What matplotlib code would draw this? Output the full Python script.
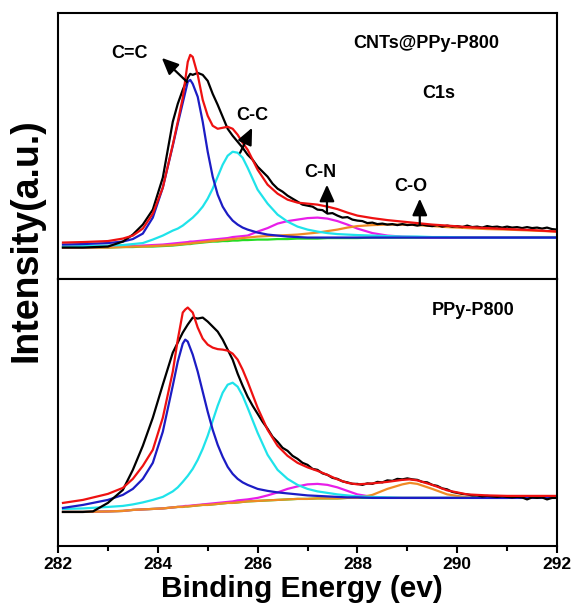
import matplotlib
matplotlib.use('Agg')
import matplotlib.pyplot as plt

plt.rcParams['font.family'] = ['Liberation Sans', 'DejaVu Sans']
plt.rcParams['font.weight'] = 'bold'

# ---- CNTs@PPy-P800, C1s (binding energy in eV, intensity in a.u.) ----
top_be = [282.1, 282.5, 283.0, 283.3, 283.5, 283.7, 283.9, 284.1, 284.3, 284.4,
          284.5, 284.6, 284.65, 284.7, 284.8, 284.9, 285.0, 285.1, 285.2, 285.3,
          285.4, 285.5, 285.6, 285.7, 285.8, 286.0, 286.2, 286.4, 286.6, 286.8,
          287.0, 287.2, 287.4, 287.6, 287.8, 288.0, 288.3, 288.6, 288.9, 289.2,
          289.5, 289.8, 290.2, 290.6, 291.0, 291.5, 292.0]
top_fit = [37, 37.5, 38.5, 41, 44, 51, 66, 92, 135, 158,
           182, 218, 225, 223, 205, 180, 164, 154, 151, 152,
           153, 151, 145, 137, 130, 110, 95, 86, 80, 77,
           76, 75, 73, 70.5, 67, 64, 61.5, 59.5, 58, 56.5,
           55, 54, 52.5, 51.5, 50.5, 49.5, 48]
top_cc_sp2 = [35, 35.5, 36.5, 38, 40.5, 46, 62, 92, 134, 156,
              177, 198, 200, 196, 183, 158, 128, 103, 85, 73,
              65, 59, 55, 52, 50, 47, 45, 44, 43, 42.5,
              42, 42, 42, 42, 42, 42, 42, 42, 42, 42,
              42, 42, 42, 42, 42, 42, 42]
top_cc_sp3 = [33, 33.5, 34, 34.5, 35.5, 36.5, 40, 44, 49, 51,
              54, 58, 60, 62, 67, 73, 81, 91, 103, 115,
              124, 128, 127, 122, 112, 90, 76, 65, 58, 53,
              50, 48, 46.5, 45.5, 45, 44.5, 44, 43.5, 43, 43,
              42.5, 42.5, 42, 42, 42, 42, 42]
top_cn = [32, 32, 32.5, 33, 33.5, 34, 34.5, 35, 36, 36.5,
          37, 37.5, 38, 38, 38.5, 39, 39.5, 40, 40.5, 41,
          41.5, 42.5, 43, 43.5, 44, 48, 51.5, 56, 58.5, 60,
          61.5, 62, 61, 58.5, 55, 51, 46.5, 44, 43, 42.5,
          42, 42, 42, 42, 42, 42, 42]
top_co = [32, 32, 32, 32.5, 33, 33, 33.5, 34, 34.5, 35,
          35.5, 36, 36, 36.5, 37, 37.5, 38, 38.5, 39, 39.5,
          40, 40.5, 41, 41.5, 42, 43, 43.5, 44, 44.5, 45,
          46, 47, 48.5, 50, 52, 53.5, 54.5, 55, 55, 54.5,
          53.5, 52.5, 51.5, 50.5, 50, 49, 48]
top_bg = [32, 32, 32, 32.5, 32.5, 33, 33, 33.5, 34, 34.5,
          35, 35.5, 35.5, 36, 36.5, 37, 37.5, 38, 38, 38.5,
          38.5, 39, 39, 39.5, 39.5, 40, 40, 40.5, 40.5, 41,
          41, 41, 41.5, 41.5, 41.5, 41.5, 42, 42, 42, 42,
          42, 42, 42, 42, 42, 42.5, 42.5]

# measured spectrum (denser in the tail)
top_raw_be = [282.1, 282.5, 283.0, 283.3, 283.5, 283.7, 283.9, 284.1, 284.3, 284.4,
              284.5, 284.6, 284.65, 284.7, 284.8, 284.9, 285.0, 285.1, 285.2, 285.3,
              285.4, 285.5, 285.6, 285.7, 285.8, 285.9,
              286.0, 286.1, 286.2, 286.3, 286.4, 286.5, 286.6, 286.7, 286.8, 286.9,
              287.0, 287.1, 287.2, 287.3, 287.4, 287.5, 287.6, 287.7, 287.8, 287.9,
              288.0, 288.1, 288.2, 288.3, 288.4, 288.5, 288.6, 288.7, 288.8, 288.9,
              289.0, 289.1, 289.2, 289.3, 289.4, 289.5, 289.6, 289.7, 289.8, 289.9,
              290.0, 290.1, 290.2, 290.3, 290.4, 290.5, 290.6, 290.7, 290.8, 290.9,
              291.0, 291.1, 291.2, 291.3, 291.4, 291.5, 291.6, 291.7, 291.8, 291.9,
              292.0]
top_raw = [32, 32, 33, 38, 45, 55, 70, 102, 158, 176,
           190, 202, 206, 205, 207, 205, 199, 186, 175, 163,
           151, 144, 138, 132, 125, 120,
           113, 108, 103, 96, 91, 88, 84, 81, 78, 75,
           74, 73, 70, 69.5, 66, 66.5, 64, 62, 62.5, 60,
           59, 58.5, 56.5, 57, 55.5, 56, 55, 55.5, 54.5, 55.5,
           54.5, 55, 54, 55, 54, 53.5, 54.5, 53, 54, 53,
           53.5, 52.5, 54, 52.5, 53, 52, 53.5, 52.5, 53, 52,
           53, 52, 52.5, 51.5, 52.5, 51.5, 52, 51, 52, 50.5,
           50]

# ---- PPy-P800 ----
bot_be = [282.1, 282.5, 283.0, 283.3, 283.5, 283.7, 283.9, 284.1, 284.3, 284.4,
          284.5, 284.55, 284.6, 284.7, 284.8, 284.9, 285.0, 285.1, 285.2, 285.3,
          285.4, 285.5, 285.6, 285.7, 285.8, 286.0, 286.2, 286.4, 286.6, 286.8,
          287.0, 287.2, 287.4, 287.6, 287.8, 288.0, 288.3, 288.6, 288.9, 289.05,
          289.2, 289.5, 289.8, 290.2, 290.6, 291.0, 291.5, 292.0]
bot_fit = [43, 46, 52, 58, 67, 80, 96, 128, 174, 206,
           233, 236, 238, 233, 218, 207, 201, 198, 196.5, 196,
           195, 192, 186, 176, 164, 138, 116, 100, 90, 83,
           78.5, 75, 71, 66.5, 63, 61.5, 62.5, 64, 66, 66.5,
           65.5, 61, 55.5, 51.5, 50.5, 50, 50, 50]
bot_cc_sp2 = [38, 41, 46, 51, 57, 67, 83, 114, 160, 184,
              202, 206, 204, 191, 174, 154, 134, 116, 101, 89,
              79, 72, 67, 63.5, 61, 57, 55, 53.5, 52.5, 51.5,
              50.5, 50, 49.5, 49, 48.5, 48.5, 48, 48, 48, 48,
              48, 48, 48, 48, 48, 48, 48, 48]
bot_cc_sp3 = [37, 37.5, 39, 40, 41.5, 43.5, 46, 49, 54.5, 58.5,
              64, 67, 70, 77, 86, 97, 110, 125, 140, 153,
              161, 163, 159, 150, 138, 113, 91, 76, 67, 61,
              57, 54.5, 53, 51.5, 50.5, 49.5, 49, 48.5, 48, 48,
              48, 48, 48, 48, 48, 48, 48, 48]
bot_cn = [34, 34, 34.5, 35, 36, 36.5, 37, 37.5, 38.5, 39,
          39.5, 40, 40, 40.5, 41, 41.5, 42, 42.5, 43, 43.5,
          44, 44.5, 45.5, 46, 46.5, 48, 50.5, 53.5, 57, 59.5,
          61.5, 62, 61, 58.5, 55, 51.5, 49, 48, 48, 48,
          48, 48, 48, 48, 48, 48, 48.5, 48.5]
bot_co = [34, 34, 34.5, 35, 36, 36.5, 37, 37.5, 38.5, 39,
          39, 39.5, 39.5, 40, 40.5, 41, 41, 41.5, 42, 42.5,
          43, 43, 43.5, 44, 44.5, 45, 45.5, 46, 46.5, 47,
          47, 47.5, 47.5, 47.5, 48, 48, 51, 57, 61.5, 63,
          62, 57, 51.5, 48.5, 48, 48, 48.5, 48.5]
bot_bg = [34, 34, 34.5, 35, 36, 36.5, 37, 37.5, 38.5, 39,
          39, 39.5, 39.5, 40, 40.5, 41, 41, 41.5, 42, 42.5,
          43, 43, 43.5, 44, 44.5, 45, 45.5, 46, 46.5, 47,
          47, 47.5, 47.5, 47.5, 48, 48, 48, 48, 48, 48,
          48, 48, 48, 48, 48, 48, 48.5, 48.5]

bot_raw_be = [282.1, 282.5, 282.7, 283.0, 283.3, 283.5, 283.7, 283.9, 284.1, 284.3,
              284.4, 284.5, 284.55, 284.6, 284.7, 284.8, 284.9, 285.0, 285.1, 285.2,
              285.3, 285.4, 285.5, 285.6, 285.7, 285.8, 285.9,
              286.0, 286.1, 286.2, 286.3, 286.4, 286.5, 286.6, 286.7, 286.8, 286.9,
              287.0, 287.1, 287.2, 287.3, 287.4, 287.5, 287.6, 287.7, 287.8, 287.9,
              288.0, 288.1, 288.2, 288.3, 288.4, 288.5, 288.6, 288.7, 288.8, 288.9,
              289.0, 289.1, 289.2, 289.3, 289.4, 289.5, 289.6, 289.7, 289.8, 289.9,
              290.0, 290.1, 290.2, 290.3, 290.4, 290.5, 290.6, 290.7, 290.8, 290.9,
              291.0, 291.1, 291.2, 291.3, 291.4, 291.5, 291.6, 291.7, 291.8, 291.9,
              292.0]
bot_raw = [34, 34, 34.5, 43, 56, 76, 100, 128, 161, 193,
           203, 213, 217, 221, 228, 227, 228, 224, 219, 214,
           206, 196, 186, 172, 160, 149, 140,
           132, 124, 117, 109, 104, 98, 95, 90, 87, 83,
           81, 77, 76, 72.5, 71, 68, 67, 64.5, 63.5, 62,
           62, 61, 62.5, 62, 64, 63.5, 65.5, 65, 67, 66.5,
           67.5, 66.5, 66, 64, 63.5, 61, 60, 57.5, 56.5, 54,
           53, 52, 51.5, 50.5, 50.5, 49.5, 50, 49.5, 49, 49.5,
           49, 48.5, 49, 48.5, 46.5, 48.5, 48, 48.5, 46.5, 48,
           48]

fig, (ax1, ax2) = plt.subplots(2, 1, sharex=True, figsize=(5.72, 6.07), dpi=100)
fig.subplots_adjust(left=0.1014, right=0.9738, top=0.9786, bottom=0.1005, hspace=0)

lw = 1.6
def draw(ax, be, bg, co, cn, sp3, sp2, fit, raw_be, raw):
    ax.plot(be, bg, color='#22dd22', lw=lw)
    ax.plot(be, cn, color='#e81ee8', lw=lw)
    ax.plot(be, co, color='#f08a24', lw=lw)
    ax.plot(be, sp3, color='#1fe3ea', lw=lw)
    ax.plot(be, sp2, color='#1c1cc4', lw=lw)
    ax.plot(raw_be, raw, color='black', lw=lw)
    ax.plot(be, fit, color='#ee1111', lw=lw)

draw(ax1, top_be, top_bg, top_co, top_cn, top_cc_sp3, top_cc_sp2, top_fit, top_raw_be, top_raw)
draw(ax2, bot_be, bot_bg, bot_co, bot_cn, bot_cc_sp3, bot_cc_sp2, bot_fit, bot_raw_be, bot_raw)

ax1.set_ylim(0, 267)
ax2.set_ylim(0, 266)
ax2.set_xlim(282, 292)
ax2.set_xticks(range(282, 293, 2))
ax2.set_xticks(range(283, 292, 2), minor=True)

for ax in (ax1, ax2):
    ax.set_yticks([])
    for s in ax.spines.values():
        s.set_linewidth(1.5)
ax1.tick_params(axis='x', which='both', bottom=False, labelbottom=False)
ax2.tick_params(axis='x', which='major', direction='out', length=5, width=1.5,
                labelsize=12.5, pad=3)
ax2.tick_params(axis='x', which='minor', direction='out', length=3.5, width=1.5)
for lab in ax2.get_xticklabels():
    lab.set_fontweight('bold')

fs = 13
ax1.text(289.37, 236.7, 'CNTs@PPy-P800', fontsize=fs, fontweight='bold', ha='center', va='center')
ax1.text(289.63, 186, 'C1s', fontsize=fs, fontweight='bold', ha='center', va='center')
ax2.text(290.32, 235.3, 'PPy-P800', fontsize=fs, fontweight='bold', ha='center', va='center')

# peak assignments with arrows
arrow = dict(arrowstyle='-|>,head_length=1.0,head_width=0.45', color='black',
             lw=1.6, shrinkA=0, shrinkB=0, mutation_scale=10)
ax1.text(283.44, 226, 'C=C', fontsize=fs, fontweight='bold', ha='center', va='center')
ax1.annotate('', xy=(284.08, 222), xytext=(284.585, 198), arrowprops=arrow)
ax1.text(285.89, 164, 'C-C', fontsize=fs, fontweight='bold', ha='center', va='center')
ax1.annotate('', xy=(285.89, 152), xytext=(285.65, 127), arrowprops=arrow)
ax1.text(287.25, 107.3, 'C-N', fontsize=fs, fontweight='bold', ha='center', va='center')
ax1.annotate('', xy=(287.39, 95), xytext=(287.39, 67), arrowprops=arrow)
ax1.text(289.07, 92.7, 'C-O', fontsize=fs, fontweight='bold', ha='center', va='center')
ax1.annotate('', xy=(289.25, 81), xytext=(289.25, 55), arrowprops=arrow)

fig.text(0.047, 0.605, 'Intensity(a.u.)', fontsize=27, fontweight='bold',
         rotation=90, ha='center', va='center')
fig.text(0.528, 0.016, 'Binding Energy (ev)', fontsize=21.5, fontweight='bold',
         ha='center', va='baseline')

fig.savefig('out.png', dpi=100)
